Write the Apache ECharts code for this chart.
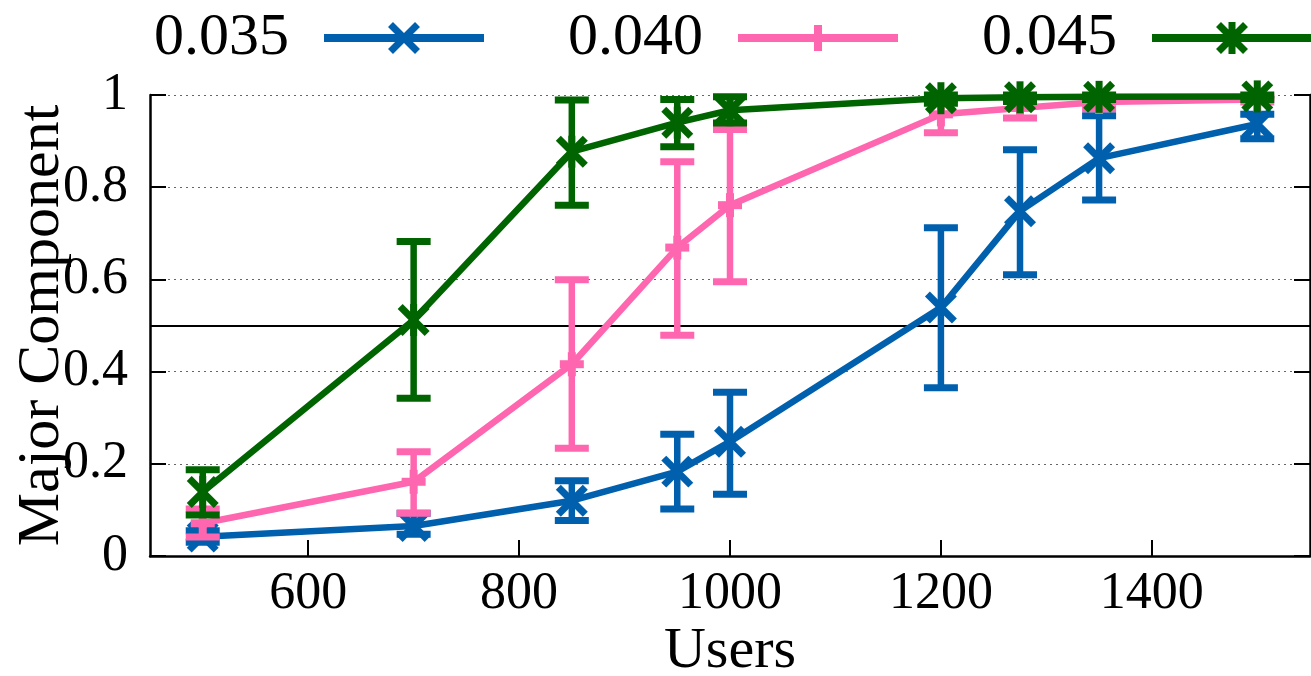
<!DOCTYPE html>
<html>
<head>
<meta charset="utf-8">
<script src="https://cdn.jsdelivr.net/npm/echarts@6/dist/echarts.min.js"></script>
<style>
html,body{margin:0;padding:0;background:#fff;}
#chart{width:1311px;height:676px;}
</style>
</head>
<body>
<div id="chart"></div>
<script>
// ---- data ----
const seriesNames = ['0.035', '0.040', '0.045'];
const users = [500, 700, 850, 950, 1000, 1200, 1275, 1350, 1500];

const blueMean = [0.042, 0.065, 0.120, 0.183, 0.248, 0.539, 0.748, 0.863, 0.937];
const blueLow  = [0.030, 0.047, 0.077, 0.102, 0.134, 0.365, 0.610, 0.772, 0.905];
const blueHigh = [0.055, 0.093, 0.163, 0.264, 0.355, 0.712, 0.881, 0.955, 0.958];

const pinkMean = [0.071, 0.161, 0.416, 0.669, 0.761, 0.958, 0.972, 0.985, 0.990];
const pinkLow  = [0.041, 0.093, 0.234, 0.479, 0.595, 0.918, 0.950, 0.970, 0.985];
const pinkHigh = [0.102, 0.226, 0.599, 0.855, 0.925, 0.990, 0.992, 0.998, 0.995];

const greenMean = [0.139, 0.512, 0.877, 0.940, 0.967, 0.993, 0.995, 0.996, 0.997];
const greenLow  = [0.089, 0.342, 0.761, 0.888, 0.939, 0.982, 0.986, 0.990, 0.990];
const greenHigh = [0.187, 0.682, 0.989, 0.990, 0.996, 1.000, 1.000, 1.000, 1.000];

const xTicks = [600, 800, 1000, 1200, 1400];
const threshold = 0.5;

// ---- styling ----
const FONT = 'Liberation Serif';
const colors = ['#0060ad', '#ff66b0', '#006400'];
const kinds = ['x', 'plus', 'star'];
const CAP = 17;
const LW = 6.5;

function rectDiag(cx, cy, a, t, dir) {
  const d = t / (2 * Math.SQRT2);
  let pts;
  if (dir > 0) {
    pts = [[cx - a + d, cy - a - d], [cx + a + d, cy + a - d], [cx + a - d, cy + a + d], [cx - a - d, cy - a + d]];
  } else {
    pts = [[cx - a - d, cy + a - d], [cx + a - d, cy - a - d], [cx + a + d, cy - a + d], [cx - a + d, cy + a + d]];
  }
  return 'M' + pts.map(p => p[0].toFixed(2) + ' ' + p[1].toFixed(2)).join(' L') + ' Z ';
}
const lineRect = 'M0 12 L160 12 L160 20 L0 20 Z ';
const bounds = 'M80 0 L80 0 Z M80 32 L80 32 Z ';
const icons = [
  'path://' + bounds + lineRect + rectDiag(80, 16, 13.5, 7, 1) + rectDiag(80, 16, 13.5, 7, -1),
  'path://' + bounds + lineRect + 'M76 3 L84 3 L84 29 L76 29 Z',
  'path://' + bounds + lineRect + rectDiag(80, 16, 13.5, 7, 1) + rectDiag(80, 16, 13.5, 7, -1) + 'M76.5 0 L83.5 0 L83.5 32 L76.5 32 Z'
];

function makeRenderer(kind, color) {
  return function (params, api) {
    const x = api.value(0), y = api.value(1), lo = api.value(2), hi = api.value(3);
    const p = api.coord([x, y]);
    const pl = api.coord([x, lo]);
    const ph = api.coord([x, hi]);
    const st = { stroke: color, lineWidth: 7, fill: null };
    const ch = [
      { type: 'line', shape: { x1: p[0], y1: pl[1], x2: p[0], y2: ph[1] }, style: { stroke: color, lineWidth: 6.5 } },
      { type: 'line', shape: { x1: p[0] - CAP, y1: pl[1], x2: p[0] + CAP, y2: pl[1] }, style: st },
      { type: 'line', shape: { x1: p[0] - CAP, y1: ph[1], x2: p[0] + CAP, y2: ph[1] }, style: st }
    ];
    const a = 13.5;
    if (kind === 'x' || kind === 'star') {
      ch.push({ type: 'line', shape: { x1: p[0] - a, y1: p[1] - a, x2: p[0] + a, y2: p[1] + a }, style: st });
      ch.push({ type: 'line', shape: { x1: p[0] - a, y1: p[1] + a, x2: p[0] + a, y2: p[1] - a }, style: st });
    }
    if (kind === 'star') {
      ch.push({ type: 'line', shape: { x1: p[0], y1: p[1] - 16, x2: p[0], y2: p[1] + 16 }, style: st });
    }
    if (kind === 'plus') {
      ch.push({ type: 'line', shape: { x1: p[0] - 12, y1: p[1], x2: p[0] + 12, y2: p[1] }, style: { stroke: color, lineWidth: 8 } });
      ch.push({ type: 'line', shape: { x1: p[0], y1: p[1] - 12, x2: p[0], y2: p[1] + 12 }, style: { stroke: color, lineWidth: 8 } });
    }
    return { type: 'group', children: ch };
  };
}

const means = [blueMean, pinkMean, greenMean];
const lows = [blueLow, pinkLow, greenLow];
const highs = [blueHigh, pinkHigh, greenHigh];

const series = [];
seriesNames.forEach((name, i) => {
  const lineSeries = {
    name: name,
    type: 'line',
    data: users.map((u, j) => [u, means[i][j]]),
    symbol: 'none',
    lineStyle: { color: colors[i], width: LW },
    itemStyle: { color: colors[i] },
    z: 2 + i * 2
  };
  if (i === 0) {
    lineSeries.markLine = {
      silent: true,
      symbol: 'none',
      label: { show: false },
      lineStyle: { color: '#000', width: 2.2, type: 'solid' },
      data: [{ yAxis: threshold }],
      z: 1
    };
  }
  series.push(lineSeries);
  series.push({
    name: name,
    type: 'custom',
    data: users.map((u, j) => [u, means[i][j], lows[i][j], highs[i][j]]),
    encode: { x: 0, y: [1, 2, 3] },
    renderItem: makeRenderer(kinds[i], colors[i]),
    clip: false,
    z: 3 + i * 2
  });
});

const chart = echarts.init(document.getElementById('chart'), null, { renderer: 'canvas' });
chart.setOption({
  animation: false,
  backgroundColor: '#fff',
  textStyle: { fontFamily: FONT },
  legend: {
    data: seriesNames.map((n, i) => ({ name: n, icon: icons[i] })),
    left: 154,
    top: 8,
    width: 1400,
    padding: 0,
    align: 'right',
    itemWidth: 160,
    itemHeight: 32,
    itemGap: 84,
    selectedMode: false,
    formatter: n => n + '  ',
    itemStyle: { borderWidth: 0 },
    textStyle: { fontFamily: FONT, fontSize: 60, color: '#000' }
  },
  grid: { left: 150, right: 1, top: 95, bottom: 120, containLabel: false, outerBoundsMode: 'none' },
  xAxis: {
    type: 'value',
    min: 450,
    max: 1550,
    name: 'Users',
    nameLocation: 'middle',
    nameGap: 67,
    nameMoveOverlap: false,
    nameTextStyle: { fontFamily: FONT, fontSize: 58, color: '#000' },
    axisLine: { show: true, onZero: false, lineStyle: { color: '#000', width: 2.5 } },
    axisTick: { show: true, inside: true, length: 16, customValues: xTicks, lineStyle: { color: '#000', width: 2 } },
    axisLabel: { show: true, customValues: xTicks, margin: 12, fontFamily: FONT, fontSize: 52, color: '#000', formatter: v => String(v) },
    splitLine: { show: false }
  },
  yAxis: [{
    type: 'value',
    min: 0,
    max: 1,
    interval: 0.2,
    name: 'Major Component',
    nameLocation: 'middle',
    nameGap: 78,
    nameRotate: 90,
    nameMoveOverlap: false,
    nameTextStyle: { fontFamily: FONT, fontSize: 60, color: '#000' },
    axisLine: { show: true, lineStyle: { color: '#000', width: 2.5 } },
    axisTick: { show: true, inside: true, length: 16, lineStyle: { color: '#000', width: 2 } },
    axisLabel: { margin: 22, fontFamily: FONT, fontSize: 52, color: '#000', formatter: v => String(v) },
    splitLine: { show: true, lineStyle: { color: '#666', width: 1.2, type: [2, 4] } }
  }, {
    type: 'value',
    position: 'right',
    min: 0,
    max: 1,
    interval: 0.2,
    axisLine: { show: true, lineStyle: { color: '#000', width: 2.5 } },
    axisTick: { show: true, inside: true, length: 16, lineStyle: { color: '#000', width: 2 } },
    axisLabel: { show: false },
    splitLine: { show: false }
  }],
  series: series
});
</script>
</body>
</html>
